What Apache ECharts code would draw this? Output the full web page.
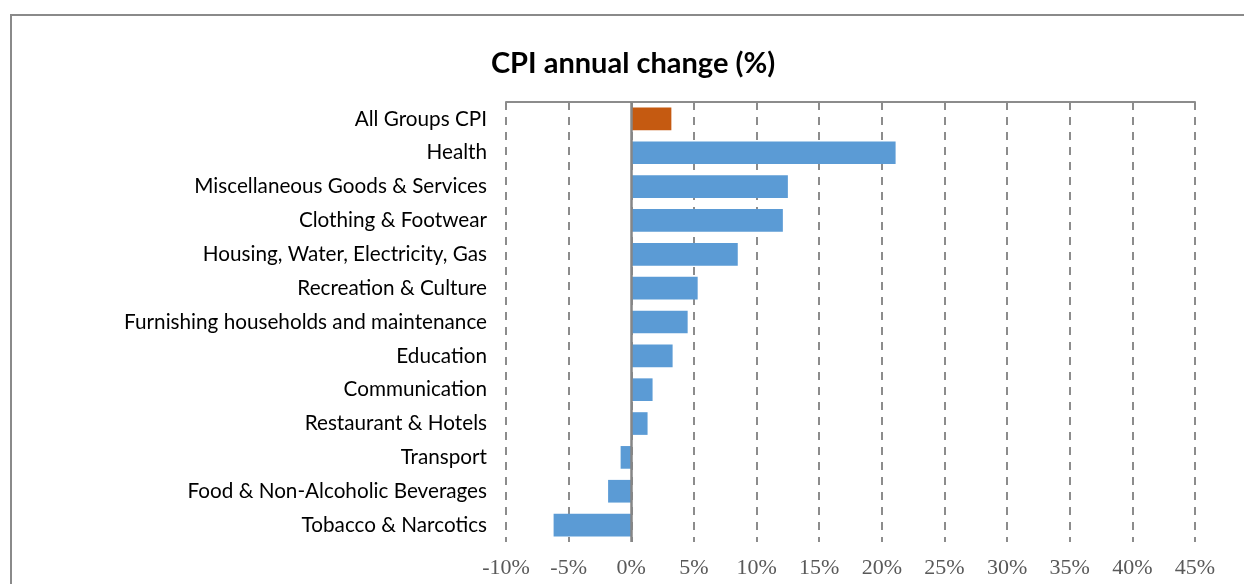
<!DOCTYPE html>
<html>
<head>
<meta charset="utf-8">
<script src="https://cdn.jsdelivr.net/npm/echarts@6/dist/echarts.min.js"></script>
<style>
html,body{margin:0;padding:0;background:#fff;}
#chart{width:1244px;height:584px;}
</style>
</head>
<body>
<div id="chart"></div>
<script>
const categories = [
  "All Groups CPI",
  "Health",
  "Miscellaneous Goods & Services",
  "Clothing & Footwear",
  "Housing, Water, Electricity, Gas",
  "Recreation & Culture",
  "Furnishing households and maintenance",
  "Education",
  "Communication",
  "Restaurant & Hotels",
  "Transport",
  "Food & Non-Alcoholic Beverages",
  "Tobacco & Narcotics"
];
const values = [3.2, 21.1, 12.5, 12.1, 8.5, 5.3, 4.5, 3.3, 1.7, 1.3, -0.85, -1.85, -6.2];
const highlightCategory = "All Groups CPI";
const axisMin = -10, axisMax = 45, axisStep = 5;

const barColor = "#5b9bd5";
const highlightColor = "#c55a11";

const chart = echarts.init(document.getElementById('chart'), null, {renderer: 'canvas'});
const option = {
  animation: false,
  backgroundColor: '#ffffff',
  title: {
    text: 'CPI annual change (%)',
    left: 628,
    textAlign: 'center',
    top: 44,
    textStyle: {fontFamily: 'Lato', fontWeight: 'bold', fontSize: 29, color: '#000'}
  },
  graphic: [{
    type: 'rect',
    shape: {x: 11, y: 15, width: 1400, height: 800},
    style: {fill: 'none', stroke: '#8a8a8a', lineWidth: 2},
    silent: true, z: -10
  }],
  grid: {left: 506, right: 49, top: 102, bottom: 42, containLabel: false},
  xAxis: [{
    type: 'value', position: 'bottom',
    min: axisMin, max: axisMax, interval: axisStep,
    axisLine: {show: false}, axisTick: {show: false},
    splitLine: {show: true, lineStyle: {color: '#8c8c8c', width: 2, type: [8, 7]}},
    axisLabel: {
      formatter: v => v + '%',
      fontFamily: 'Liberation Serif', fontSize: 22, color: '#595959', margin: 15
    }
  }, {
    type: 'value', position: 'top',
    min: axisMin, max: axisMax, interval: axisStep,
    axisLine: {show: true, lineStyle: {color: '#8c8c8c', width: 2}},
    axisTick: {show: false}, axisLabel: {show: false}, splitLine: {show: false}
  }],
  yAxis: {
    type: 'category', data: categories, inverse: true,
    axisLine: {show: false}, axisTick: {show: false},
    axisLabel: {fontFamily: 'Lato', fontSize: 20.7, color: '#000', margin: 19}
  },
  series: [{
    type: 'bar',
    xAxisIndex: 0,
    barCategoryGap: '33%',
    data: values.map((v, i) => ({
      value: v,
      itemStyle: {color: categories[i] === highlightCategory ? highlightColor : barColor}
    })),
    markLine: {
      silent: true, symbol: 'none', label: {show: false},
      lineStyle: {color: '#868686', width: 2.5, type: 'solid'},
      data: [{xAxis: 0}]
    }
  }]
};
chart.setOption(option);
</script>
</body>
</html>
